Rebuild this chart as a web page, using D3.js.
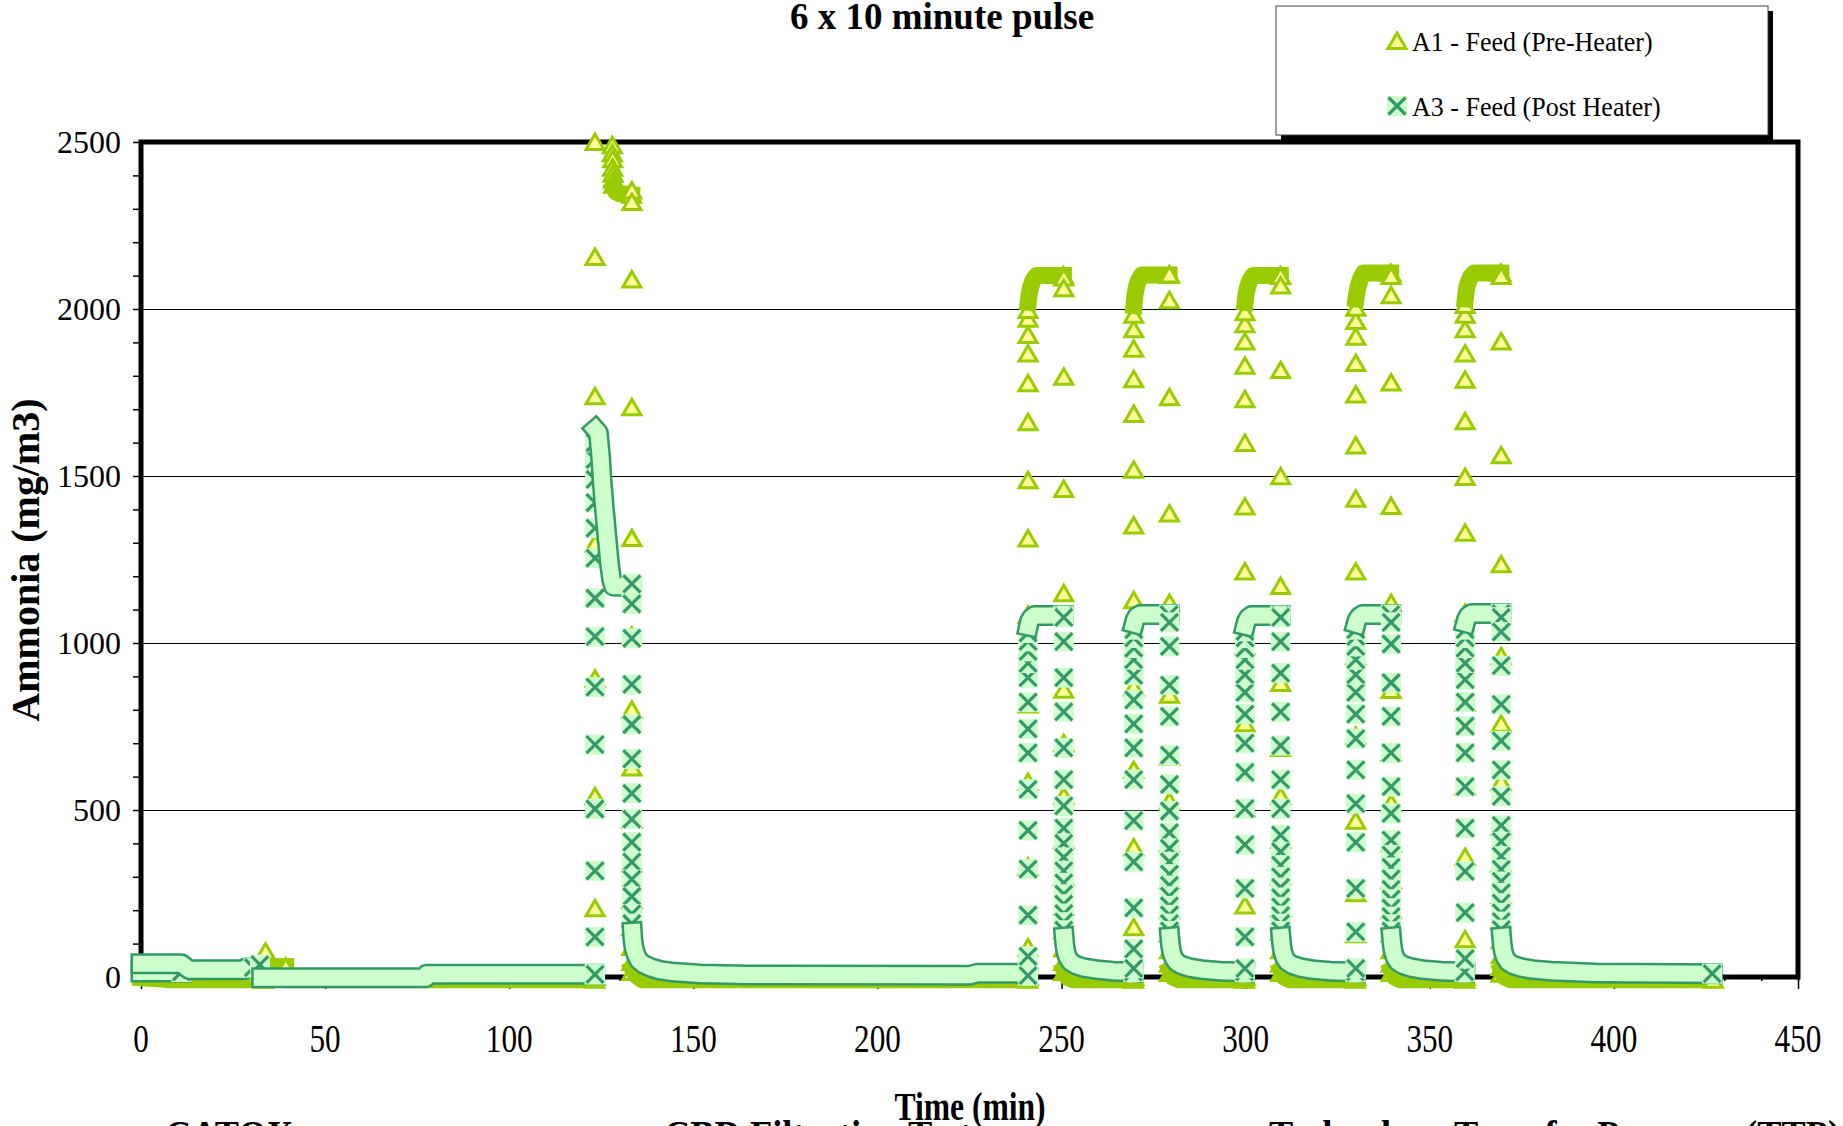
<!DOCTYPE html>
<html>
<head>
<meta charset="utf-8">
<script src="https://cdn.jsdelivr.net/npm/d3@7"></script>
<style>
  body { margin: 0; background: #fff; }
  svg { display: block; }
  text { font-family: "Liberation Serif", "Times New Roman", serif; fill: #000; }
</style>
</head>
<body>
<svg id="chart" width="1843" height="1126"></svg>
<script>
// ---- data ----
const xTicks = [0, 50, 100, 150, 200, 250, 300, 350, 400, 450];
const yTicks = [0, 500, 1000, 1500, 2000, 2500];
const seriesNames = ["A1 - Feed (Pre-Heater)", "A3 - Feed (Post Heater)"];
const footNotes = ["CATOX", "CBD Filtration Test", "Technology Transfer Program (TTP)"];

// start / end of each pulse (min); readings in the steep columns share one time
const riseTimes = [123.3, 240.9, 269.6, 299.8, 329.9, 359.6];
const fallTimes = [133.3, 250.6, 279.3, 309.5, 339.5, 369.4];

// A1 readings in the rise and fall columns of each pulse
const a1Rise = [
  [0, 206, 541, 893, 1297, 1739, 2156, 2500],
  [0, 88, 330, 584, 816, 1084, 1313, 1487, 1661, 1778, 1867, 1922, 1971, 1997],
  [0, 149, 388, 620, 867, 1128, 1352, 1519, 1686, 1790, 1881, 1939, 1983],
  [0, 214, 504, 760, 990, 1214, 1409, 1599, 1730, 1830, 1903, 1954, 1990],
  [0, 128, 251, 468, 722, 960, 1214, 1432, 1591, 1744, 1838, 1917, 1964, 2004],
  [0, 113, 359, 570, 820, 1090, 1330, 1497, 1664, 1788, 1867, 1939, 1983, 2012]
];
const a1Fall = [
  [2355, 2320, 2088, 1706, 1314, 1022, 800, 627, 470, 340, 230, 150, 90, 45, 15],
  [2094, 2062, 1797, 1461, 1149, 860, 700, 541, 410, 300, 210, 140, 85, 45, 15],
  [2103, 2026, 1736, 1388, 1120, 845, 660, 526, 400, 290, 200, 130, 80, 40, 12],
  [2099, 2070, 1817, 1499, 1171, 880, 686, 541, 410, 300, 205, 135, 80, 40, 12],
  [2099, 2041, 1780, 1410, 1120, 859, 671, 520, 400, 290, 200, 130, 80, 40, 12],
  [2099, 1903, 1562, 1236, 960, 758, 583, 450, 340, 245, 170, 110, 65, 30, 10]
];
const a1Extra = [[33.8, 76], [128.0, 2490], [128.0, 2466], [128.1, 2448], [128.1, 2423],
  [128.2, 2405], [128.3, 2388], [128.4, 2372]];
// dense stretches of A1 (markers overlap into a band): [time, value]
const a1Runs = [
  [[0, -2], [5, -5], [8, -8], [33.3, -8]],
  [[35.8, 31], [39.3, 31]],
  [[41.5, -8], [123.2, -8]],
  [[128.5, 2360], [129, 2350], [130, 2345], [133.2, 2342]],
  [[133.5, 25], [134.5, 5], [136, -8], [240.8, -8]],
  [[240.95, 2020], [241.2, 2045], [241.6, 2065], [242.2, 2085], [243.2, 2100], [250.5, 2100]],
  [[250.7, 20], [251.5, 0], [253, -8], [269.5, -8]],
  [[269.65, 2010], [269.9, 2040], [270.3, 2065], [270.9, 2085], [271.8, 2102], [279.2, 2102]],
  [[279.4, 20], [280.2, 0], [281.7, -8], [299.7, -8]],
  [[299.85, 2020], [300.1, 2045], [300.5, 2065], [301.1, 2085], [302, 2100], [309.4, 2100]],
  [[309.6, 20], [310.4, 0], [311.9, -8], [329.8, -8]],
  [[329.95, 2030], [330.2, 2050], [330.6, 2070], [331.2, 2090], [332, 2108], [339.4, 2108]],
  [[339.6, 20], [340.4, 0], [341.9, -8], [359.5, -8]],
  [[359.65, 2030], [359.9, 2055], [360.3, 2075], [361, 2095], [362, 2108], [369.3, 2108]],
  [[369.5, 20], [370.3, 0], [371.8, -8], [427, -8]]
];

// A3 readings
const a3Rise = [
  [8, 120, 318, 503, 696, 868, 1019, 1134, 1254, 1344, 1420, 1490, 1550, 1600],
  [4, 62, 185, 323, 439, 562, 671, 743, 823, 896, 940, 975, 1005, 1030],
  [26, 84, 207, 345, 468, 591, 686, 758, 830, 903, 950, 985, 1015, 1040],
  [26, 120, 265, 396, 504, 613, 700, 787, 852, 905, 950, 985, 1015, 1035],
  [26, 135, 265, 403, 519, 620, 714, 787, 852, 905, 950, 990, 1020, 1040],
  [55, 193, 316, 446, 570, 671, 751, 823, 890, 940, 985, 1015, 1040]
];
const a3Fall = [
  [1177, 1117, 1014, 876, 756, 653, 550, 473, 404, 344, 292, 241, 189, 160],
  [1077, 1004, 896, 794, 686, 591, 512, 446, 400, 358, 318, 282, 248, 218, 190, 164, 140],
  [1062, 990, 874, 780, 664, 577, 497, 432, 385, 345, 308, 274, 242, 213, 186, 160, 138],
  [1077, 1004, 910, 794, 693, 591, 504, 425, 375, 335, 300, 268, 238, 210, 184, 160, 138],
  [1062, 997, 881, 780, 671, 570, 490, 410, 365, 328, 294, 262, 233, 206, 181, 158, 137],
  [1077, 1033, 932, 816, 707, 620, 541, 454, 405, 362, 322, 286, 252, 221, 192, 166, 142]
];
const a3Extra = [[32.3, 37]];
const a3Runs = [
  [[0, 15], [11, 15]],
  [[0, 40], [11, 40], [13, 22], [28, 22], [28.5, 28], [30.5, 28]],
  [[32.8, -2], [77.3, -2], [77.6, 8], [123.2, 8]],
  [[123.4, 1640], [124.2, 1630], [124.8, 1560], [125.2, 1490], [125.7, 1420], [126.2, 1360],
   [126.7, 1300], [127.2, 1240], [127.8, 1190], [128.3, 1170], [133.2, 1170]],
  [[133.45, 135], [133.6, 110], [133.9, 88], [134.4, 68], [135.2, 50], [136.5, 38], [138.5, 28],
   [141, 20], [145, 14], [152, 9], [165, 6], [225, 5], [227, 11], [240.8, 11]],
  [[241.0, 1050], [241.3, 1065], [241.8, 1075], [242.6, 1082], [250.5, 1082]],
  [[250.7, 120], [250.9, 95], [251.2, 75], [251.7, 58], [252.5, 45], [253.8, 36], [256, 28],
   [259.5, 22], [264, 17], [269.5, 15]],
  [[269.7, 1058], [270, 1070], [270.5, 1080], [271.3, 1085], [279.2, 1085]],
  [[279.4, 120], [279.6, 95], [279.9, 75], [280.4, 58], [281.2, 45], [282.5, 36], [284.7, 28],
   [288, 22], [293, 17], [299.7, 15]],
  [[299.9, 1052], [300.2, 1065], [300.7, 1075], [301.5, 1082], [309.4, 1082]],
  [[309.6, 120], [309.8, 95], [310.1, 75], [310.6, 58], [311.4, 45], [312.7, 36], [314.9, 28],
   [318, 22], [323, 17], [329.8, 15]],
  [[330.0, 1058], [330.3, 1070], [330.8, 1078], [331.7, 1085], [339.4, 1085]],
  [[339.6, 120], [339.8, 95], [340.1, 75], [340.6, 58], [341.4, 45], [342.7, 36], [344.9, 28],
   [348, 22], [353, 17], [359.5, 15]],
  [[359.7, 1060], [360, 1072], [360.5, 1082], [361.3, 1088], [369.3, 1088]],
  [[369.5, 120], [369.7, 95], [370, 75], [370.5, 58], [371.3, 45], [372.6, 36], [374.8, 28],
   [378, 22], [383, 17], [395, 12], [426.7, 10]]
];

// ---- layout ----
const svg = d3.select("#chart");
const x = d3.scaleLinear().domain([0, 450]).range([141, 1798]);
const y = d3.scaleLinear().domain([0, 2500]).range([977, 142]);

const A1 = { stroke: "#99cc00", fill: "#ffff99" };
const A3 = { stroke: "#339966", fill: "#ccffcc" };

function label(parent, str, px, py, o) {
  return parent.append("text")
    .attr("transform", `translate(${px},${py}) rotate(${o.rotate || 0}) scale(${o.sx || 1},1)`)
    .attr("text-anchor", o.anchor || "start")
    .attr("font-size", o.size)
    .attr("font-weight", o.bold ? "bold" : null)
    .text(str);
}

// gridlines
svg.append("g").attr("class", "grid")
  .selectAll("line")
  .data(yTicks.filter((v) => v > 0 && v < 2500))
  .join("line")
  .attr("x1", x(0)).attr("x2", x(450))
  .attr("y1", (d) => y(d)).attr("y2", (d) => y(d))
  .attr("stroke", "#000").attr("stroke-width", 1)
  .attr("shape-rendering", "crispEdges");

// ticks (labels are drawn separately so they can be squeezed like the original)
const yAxis = svg.append("g").attr("transform", `translate(${x(0)},0)`)
  .call(d3.axisLeft(y).tickValues(d3.range(0, 2501, 100)).tickSize(8).tickFormat(""));
const xMinor = svg.append("g").attr("transform", `translate(0,${y(0)})`)
  .call(d3.axisBottom(x).tickValues(d3.range(0, 451, 10)).tickSize(4).tickFormat(""));
const xMajor = svg.append("g").attr("transform", `translate(0,${y(0)})`)
  .call(d3.axisBottom(x).tickValues(xTicks).tickSize(12).tickFormat(""));
[yAxis, xMinor, xMajor].forEach((a) => {
  a.select(".domain").remove();
  a.selectAll("line").attr("stroke", "#000").attr("stroke-width", 1.5);
});

// plot frame
svg.append("rect")
  .attr("x", x(0)).attr("y", y(2500))
  .attr("width", x(450) - x(0)).attr("height", y(0) - y(2500))
  .attr("fill", "none").attr("stroke", "#000").attr("stroke-width", 5);

// ---- markers ----
function triangles(g, pts) {
  g.append("g").selectAll("path").data(pts).join("path")
    .attr("transform", (d) => `translate(${x(d[0])},${y(d[1])})`)
    .attr("d", "M0,-8L9,7.5L-9,7.5Z")
    .attr("fill", A1.fill).attr("stroke", A1.stroke)
    .attr("stroke-width", 3).attr("stroke-linejoin", "miter");
}
function crosses(g, pts) {
  const m = g.append("g").selectAll("g").data(pts).join("g")
    .attr("transform", (d) => `translate(${x(d[0])},${y(d[1])})`);
  m.append("rect").attr("x", -10).attr("y", -10).attr("width", 20).attr("height", 20)
    .attr("fill", A3.fill);
  m.append("path").attr("d", "M-8.5,-8.5L8.5,8.5M8.5,-8.5L-8.5,8.5")
    .attr("stroke", A3.stroke).attr("stroke-width", 3.2);
}

const line = d3.line().x((d) => x(d[0])).y((d) => y(d[1]));

function bandA1(g, pts) {
  g.append("path").attr("d", line(pts)).attr("fill", "none")
    .attr("stroke", A1.stroke).attr("stroke-width", 17)
    .attr("stroke-linecap", "square").attr("stroke-linejoin", "round");
}
function bandA3(g, pts) {
  g.append("path").attr("d", line(pts)).attr("fill", "none")
    .attr("stroke", A3.stroke).attr("stroke-width", 21)
    .attr("stroke-linecap", "square").attr("stroke-linejoin", "round");
  g.append("path").attr("d", line(pts)).attr("fill", "none")
    .attr("stroke", A3.fill).attr("stroke-width", 16)
    .attr("stroke-linecap", "square").attr("stroke-linejoin", "round");
}

// collect the pieces of one series and draw them in time order, as Excel does
function seriesItems(runs, rise, fall, extra) {
  const items = runs.map((r) => ({ kind: "run", t: r[0][0], pts: r }));
  riseTimes.forEach((t, i) => items.push({ kind: "col", t, pts: rise[i].map((v) => [t, v]) }));
  fallTimes.forEach((t, i) => items.push({ kind: "col", t, pts: fall[i].map((v) => [t, v]) }));
  extra.forEach((p) => items.push({ kind: "col", t: p[0], pts: [p] }));
  return items.sort((a, b) => a.t - b.t);
}

function drawSeries(items, band, marker) {
  const g = svg.append("g");
  items.forEach((it) => {
    if (it.kind === "run") {
      band(g, it.pts);
      marker(g, [it.pts[it.pts.length - 1]]);
    } else {
      marker(g, it.pts);
    }
  });
}

drawSeries(seriesItems(a1Runs, a1Rise, a1Fall, a1Extra), bandA1, triangles);
drawSeries(seriesItems(a3Runs, a3Rise, a3Fall, a3Extra), bandA3, crosses);

// ---- text ----
const txt = svg.append("g");
yTicks.forEach((v) => label(txt, String(v), 121, y(v) + 11, { size: 32, anchor: "end" }));
xTicks.forEach((t) => label(txt, String(t), x(t), 1052, { size: 39.5, anchor: "middle", sx: 0.79 }));

label(txt, "6 x 10 minute pulse", 942, 28.5, { size: 37, bold: true, anchor: "middle" });
label(txt, "Ammonia (mg/m3)", 39, 560, { size: 40, bold: true, anchor: "middle", rotate: -90 });

// cut-off footer line under the chart
label(txt, footNotes[0], 165, 1148, { size: 40, bold: true, sx: 0.91 });
label(txt, footNotes[1], 664, 1148, { size: 40, bold: true, sx: 0.91 });
label(txt, footNotes[2], 1269, 1148, { size: 40, bold: true, sx: 0.91 });
label(txt, "Time (min)", 970, 1120, { size: 40, bold: true, anchor: "middle", sx: 0.79 });

// ---- legend ----
const lg = svg.append("g");
lg.append("rect").attr("x", 1281).attr("y", 11).attr("width", 492).attr("height", 129).attr("fill", "#000");
lg.append("rect").attr("x", 1276).attr("y", 6).attr("width", 492).attr("height", 129)
  .attr("fill", "#fff").attr("stroke", "#444").attr("stroke-width", 1);
const legendRows = [
  { name: seriesNames[0], cy: 41, draw: triangles },
  { name: seriesNames[1], cy: 106, draw: crosses }
];
legendRows.forEach((r) => {
  r.draw(lg.append("g").attr("transform", `translate(${1397 - x(0)},${r.cy - y(0)})`), [[0, 0]]);
  label(lg, r.name, 1412, r.cy + 10, { size: 28, sx: 0.93 });
});
</script>
</body>
</html>
